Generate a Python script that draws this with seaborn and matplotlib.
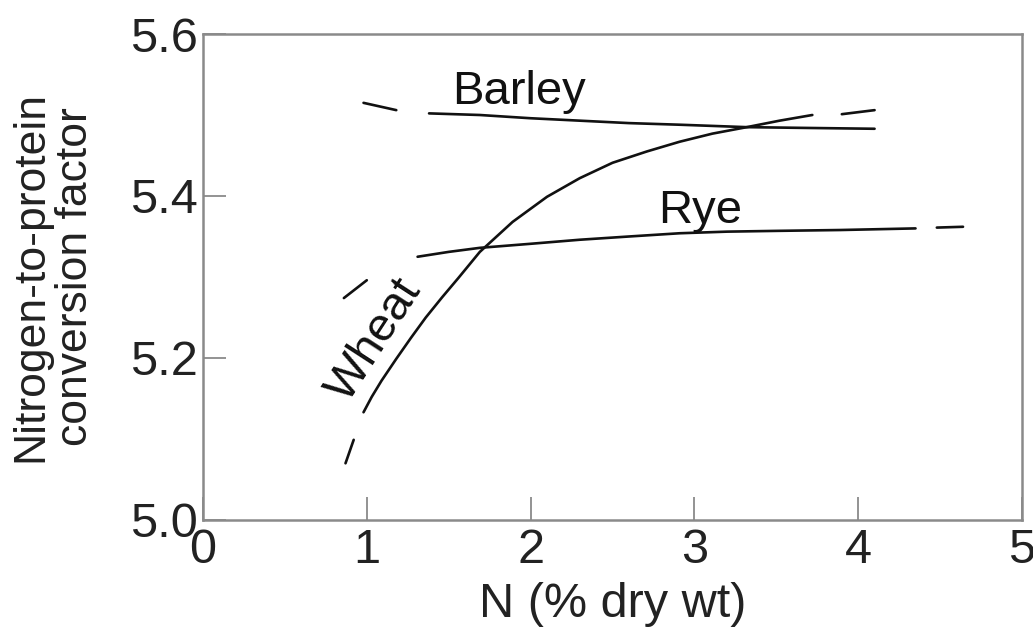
import numpy as np
import pandas as pd
import seaborn as sns
import matplotlib
matplotlib.use("Agg")
import matplotlib.pyplot as plt

# ---- data ----
barley_n = [1.38, 1.69, 2.0, 2.30, 2.60, 2.91, 3.32, 3.70, 4.10]
barley_f = [5.502, 5.500, 5.496, 5.493, 5.490, 5.488, 5.485, 5.484, 5.483]
barley_dash_n = [0.98, 1.18]
barley_dash_f = [5.515, 5.506]

rye_n = [1.31, 1.50, 1.69, 2.0, 2.30, 2.60, 2.91, 3.20, 3.52, 3.89, 4.35]
rye_f = [5.325, 5.331, 5.336, 5.341, 5.346, 5.350, 5.354, 5.356, 5.357, 5.358, 5.360]
rye_dash_n = [4.48, 4.64]
rye_dash_f = [5.361, 5.362]
rye_dash2_n = [0.86, 1.00]
rye_dash2_f = [5.274, 5.296]

wheat_n = [0.98, 1.03, 1.09, 1.18, 1.27, 1.36, 1.46, 1.56, 1.69, 1.89, 2.10,
           2.30, 2.50, 2.71, 2.91, 3.11, 3.32, 3.52, 3.72]
wheat_f = [5.133, 5.152, 5.172, 5.199, 5.225, 5.250, 5.275, 5.299, 5.331, 5.368, 5.399,
           5.422, 5.441, 5.455, 5.467, 5.477, 5.485, 5.493, 5.500]
wheat_dash_lo_n = [0.87, 0.92]
wheat_dash_lo_f = [5.070, 5.099]
wheat_dash_hi_n = [3.90, 4.10]
wheat_dash_hi_f = [5.501, 5.506]

x_ticks = [0, 1, 2, 3, 4, 5]
y_ticks = [5.0, 5.2, 5.4, 5.6]
y_tick_labels = ["5.0", "5.2", "5.4", "5.6"]

labels = ["Barley", "Rye", "Wheat"]
label_x = [1.52, 2.78, 1.05]
label_y = [5.513, 5.367, 5.222]

segments = [
    ("barley", barley_n, barley_f),
    ("barley_d", barley_dash_n, barley_dash_f),
    ("rye", rye_n, rye_f),
    ("rye_d", rye_dash_n, rye_dash_f),
    ("rye_d2", rye_dash2_n, rye_dash2_f),
    ("wheat", wheat_n, wheat_f),
    ("wheat_dl", wheat_dash_lo_n, wheat_dash_lo_f),
    ("wheat_dh", wheat_dash_hi_n, wheat_dash_hi_f),
]
rows = []
for name, xs, ys in segments:
    for i, (a, b) in enumerate(zip(xs, ys)):
        rows.append({"seg": name, "order": i, "N": a, "F": b})
df = pd.DataFrame(rows)

# ---- plotting ----
sns.set_style("white")
plt.rcParams["font.family"] = ["Liberation Sans", "DejaVu Sans"]
plt.rcParams["lines.solid_capstyle"] = "round"
plt.rcParams["lines.solid_joinstyle"] = "round"

fig = plt.figure(figsize=(10.33, 6.35), dpi=100)
ax = fig.add_axes([203 / 1033, 1 - 520 / 635, (1022 - 203) / 1033, (520 - 34) / 635])

sns.lineplot(data=df, x="N", y="F", units="seg", estimator=None, sort=False,
             color="#111111", linewidth=1.9, ax=ax, legend=False)

fs_tick = 35
fs_lab = 34
ax.set_xlim(0, 5)
ax.set_ylim(5.0, 5.6)
ax.set_xticks(x_ticks)
ax.set_xticklabels([str(t) for t in x_ticks])
ax.set_yticks(y_ticks)
ax.set_yticklabels(y_tick_labels)

spine_col = "#8a8a8a"
for s in ax.spines.values():
    s.set_color(spine_col)
    s.set_linewidth(1.8)
    s.set_visible(True)

ax.tick_params(axis="both", which="major", direction="in", length=16.5, width=1.3,
               color=spine_col, labelsize=fs_tick, labelcolor="#222222",
               bottom=True, left=True, top=False, right=False)
ax.tick_params(axis="x", pad=6)
ax.tick_params(axis="y", pad=4)

ax.set_xlabel("N (% dry wt)", fontsize=fs_tick, color="#222222", labelpad=6)
ax.set_ylabel("Nitrogen-to-protein\nconversion factor", fontsize=32, color="#222222",
              labelpad=24, linespacing=1.12)

ax.text(label_x[0], label_y[0], labels[0], fontsize=fs_lab, color="#111111",
        ha="left", va="baseline")
ax.text(label_x[1], label_y[1], labels[1], fontsize=fs_lab, color="#111111",
        ha="left", va="baseline")
ax.text(label_x[2], label_y[2], labels[2], fontsize=fs_lab, color="#111111",
        ha="center", va="center", rotation=57, rotation_mode="anchor")

fig.savefig("out.png", dpi=100, facecolor="white")
